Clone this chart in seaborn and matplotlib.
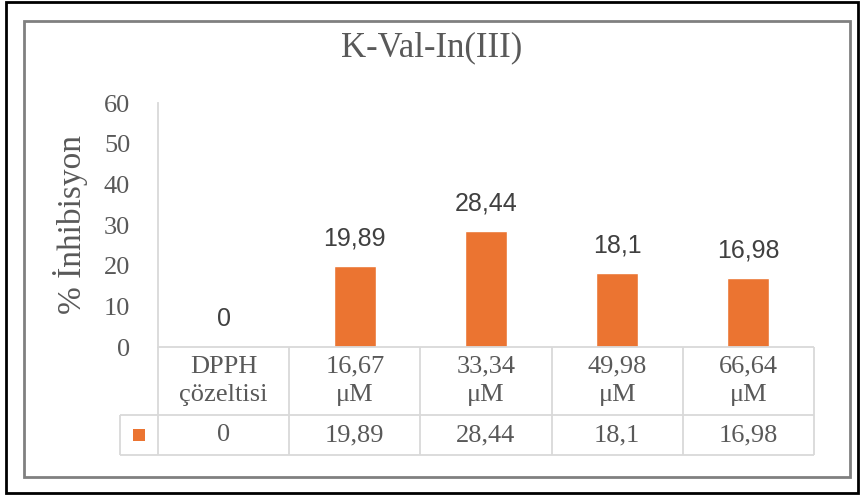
import matplotlib
matplotlib.use("Agg")
import matplotlib.pyplot as plt
from matplotlib.patches import Rectangle
import seaborn as sns

# Data
categories = ["DPPH\nçözeltisi", "16,67\nμM", "33,34\nμM", "49,98\nμM", "66,64\nμM"]
values = [0, 19.89, 28.44, 18.1, 16.98]
y_ticks = [0, 10, 20, 30, 40, 50, 60]
title = "K-Val-In(III)"
y_label = "% İnhibisyon"

BAR = "#EB7431"
TXT = "#595959"
GRID = "#d9d9d9"
SERIF = ["Liberation Serif", "DejaVu Serif"]
SANS = ["Liberation Sans", "DejaVu Sans"]

sns.set_style("white")
plt.rcParams["font.family"] = SERIF

W, H = 864, 495
fig = plt.figure(figsize=(W / 100, H / 100), dpi=100)


def fx(x):
    return x / W


def fy(y):
    return 1 - y / H


def fmt(v):
    return f"{v:g}".replace(".", ",")


# outer frames
fig.add_artist(Rectangle((fx(6), fy(493)), (858 - 6) / W, (493 - 2) / H,
                         transform=fig.transFigure, fill=False, ec="black", lw=2))
fig.add_artist(Rectangle((fx(24), fy(477)), (850 - 24) / W, (477 - 21) / H,
                         transform=fig.transFigure, fill=False, ec="#808080", lw=2))

# main bar plot
ax = fig.add_axes([fx(158), fy(347), 656 / W, 244 / H])
sns.barplot(x=list(range(len(values))), y=values, color=BAR, saturation=1,
            width=0.32, ax=ax, native_scale=True)
ax.set_xlim(-0.5, len(values) - 0.5)
ax.set_ylim(0, 60)
ax.set_yticks(y_ticks)
ax.set_xticks([])
ax.set_xlabel("")
ax.set_ylabel("")
ax.tick_params(axis="y", length=0, pad=20, labelsize=19, labelcolor=TXT)
for s in ["top", "right", "bottom"]:
    ax.spines[s].set_visible(False)
ax.spines["left"].set_color(GRID)
ax.spines["left"].set_linewidth(1.3)
ax.patch.set_alpha(0)

for i, v in enumerate(values):
    ax.annotate(fmt(v), (i, v), xytext=(0, 20), textcoords="offset points",
                ha="center", va="center", fontsize=18, color="#404040",
                family=SANS)

fig.text(fx(432), fy(48), title, ha="center", va="center", fontsize=25, color=TXT)
fig.text(fx(70), fy(224), y_label, ha="center", va="center", rotation=90,
         fontsize=24, color=TXT)

# data table under the axis
cw = 656 / len(values)
key_w = 38 / cw
tax = fig.add_axes([fx(120), fy(455), 694 / W, 108 / H])
tax.set_xlim(-0.5 - key_w, len(values) - 0.5)
tax.set_ylim(108, 0)
tax.axis("off")

n = len(values)
tax.hlines(0, -0.5, n - 0.5, color=GRID, lw=1.3, clip_on=False)
tax.hlines([68, 108], -0.5 - key_w, n - 0.5, color=GRID, lw=1.3, clip_on=False)
tax.vlines(-0.5 - key_w, 68, 108, color=GRID, lw=1.3, clip_on=False)
tax.vlines([i + 0.5 for i in range(-1, n)], 0, 108, color=GRID, lw=1.3, clip_on=False)

for i, (c, v) in enumerate(zip(categories, values)):
    tax.text(i, 34, c, ha="center", va="center", fontsize=19, color=TXT,
             linespacing=1.4)
    tax.text(i, 88, fmt(v), ha="center", va="center", fontsize=19, color=TXT)

ks = 12
tax.add_patch(Rectangle((-0.5 - key_w / 2 - ks / cw / 2, 88 - ks / 2), ks / cw, ks,
                        color=BAR, lw=0))

fig.savefig("out.png", dpi=100)
